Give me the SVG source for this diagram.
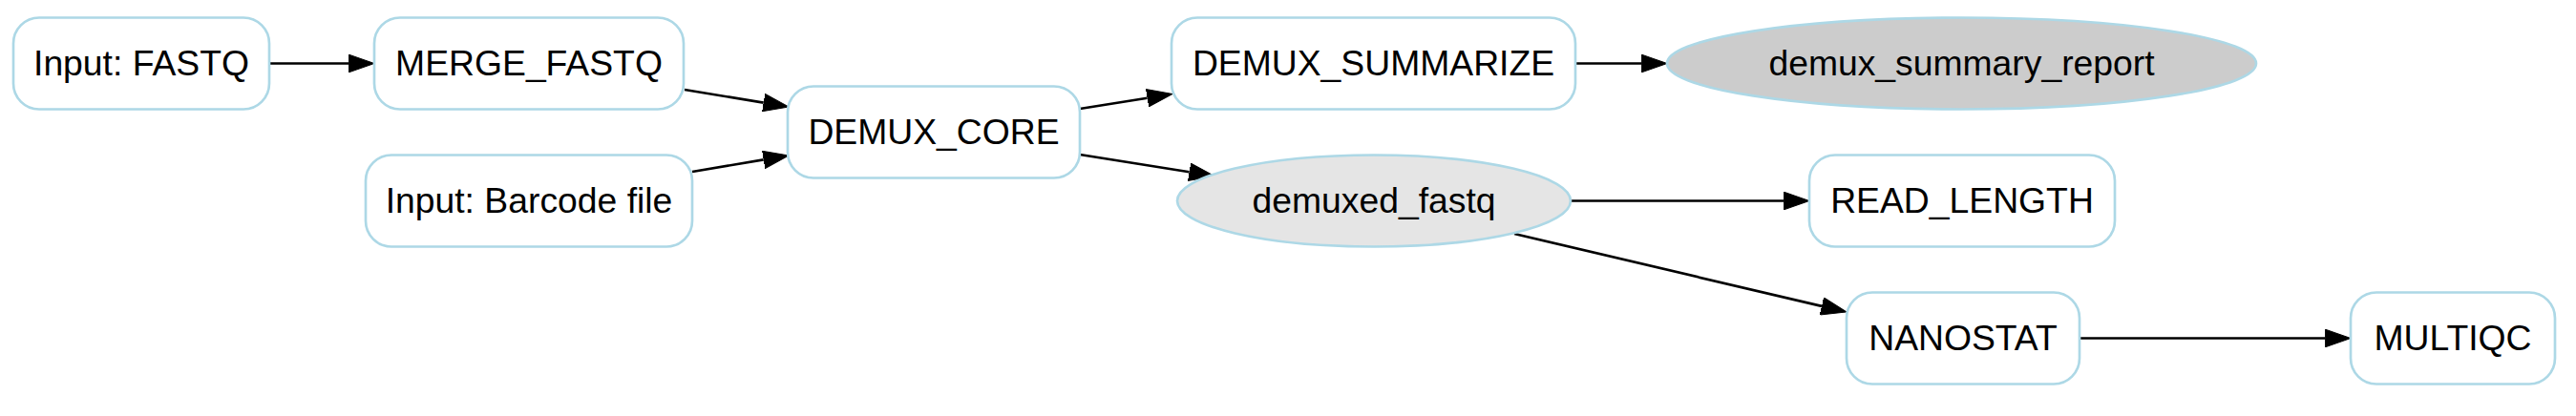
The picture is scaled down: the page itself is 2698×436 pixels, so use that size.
<svg xmlns="http://www.w3.org/2000/svg" width="2698" height="436" viewBox="0 0 2698 436">
<style>
.box{fill:#ffffff;stroke:#add8e6;stroke-width:2.67}
.ell1{fill:#e5e5e5;stroke:#add8e6;stroke-width:2.67}
.ell2{fill:#cccccc;stroke:#add8e6;stroke-width:2.67}
.lbl{font-family:"Liberation Sans",Arial,Helvetica,sans-serif;font-size:37.3px;fill:#000000;text-anchor:middle}
.edge{fill:none;stroke:#000000;stroke-width:2.67;marker-end:url(#arr)}
</style>
<defs>
<marker id="arr" markerUnits="userSpaceOnUse" markerWidth="27" markerHeight="19" refX="0" refY="9.35" orient="auto" viewBox="0 0 27 18.7">
<path d="M0,0 L26.7,9.35 L0,18.7 Z" fill="#000000" stroke="#000000" stroke-width="1"/>
</marker>
</defs>
<g id="edges">
<path class="edge" d="M282,66.5 L365.3,66.5"/>
<path class="edge" d="M717,94 L799.7,107.6"/>
<path class="edge" d="M725,180 L799.7,167.4"/>
<path class="edge" d="M1131,114 L1201.6,102.7"/>
<path class="edge" d="M1131,162 L1245.6,180.3"/>
<path class="edge" d="M1650,66.5 L1719.3,66.5"/>
<path class="edge" d="M1645,210.5 L1868.3,210.5"/>
<path class="edge" d="M1586,245 L1908,320.9"/>
<path class="edge" d="M2178,354.5 L2435.3,354.5"/>
</g>
<g id="input_fastq">
<rect class="box" x="14" y="18.5" width="268" height="96" rx="27" ry="27"/>
<text class="lbl" x="148" y="79">Input: FASTQ</text>
</g>
<g id="merge_fastq">
<rect class="box" x="392" y="18.5" width="324" height="96" rx="27" ry="27"/>
<text class="lbl" x="554" y="79">MERGE_FASTQ</text>
</g>
<g id="input_barcode">
<rect class="box" x="383" y="162.5" width="342" height="96" rx="27" ry="27"/>
<text class="lbl" x="554" y="223">Input: Barcode file</text>
</g>
<g id="demux_core">
<rect class="box" x="825" y="90.5" width="306" height="96" rx="27" ry="27"/>
<text class="lbl" x="978" y="151">DEMUX_CORE</text>
</g>
<g id="demux_summarize">
<rect class="box" x="1227" y="18.5" width="423" height="96" rx="27" ry="27"/>
<text class="lbl" x="1438.5" y="79">DEMUX_SUMMARIZE</text>
</g>
<g id="demux_summary_report">
<ellipse class="ell2" cx="2054.5" cy="66.5" rx="308.5" ry="48"/>
<text class="lbl" x="2054.5" y="79">demux_summary_report</text>
</g>
<g id="demuxed_fastq">
<ellipse class="ell1" cx="1439" cy="210.5" rx="206" ry="48"/>
<text class="lbl" x="1439" y="223">demuxed_fastq</text>
</g>
<g id="read_length">
<rect class="box" x="1895" y="162.5" width="320" height="96" rx="27" ry="27"/>
<text class="lbl" x="2055" y="223">READ_LENGTH</text>
</g>
<g id="nanostat">
<rect class="box" x="1934" y="306.5" width="244" height="96" rx="27" ry="27"/>
<text class="lbl" x="2056" y="367">NANOSTAT</text>
</g>
<g id="multiqc">
<rect class="box" x="2462" y="306.5" width="214" height="96" rx="27" ry="27"/>
<text class="lbl" x="2569" y="367">MULTIQC</text>
</g>
</svg>
